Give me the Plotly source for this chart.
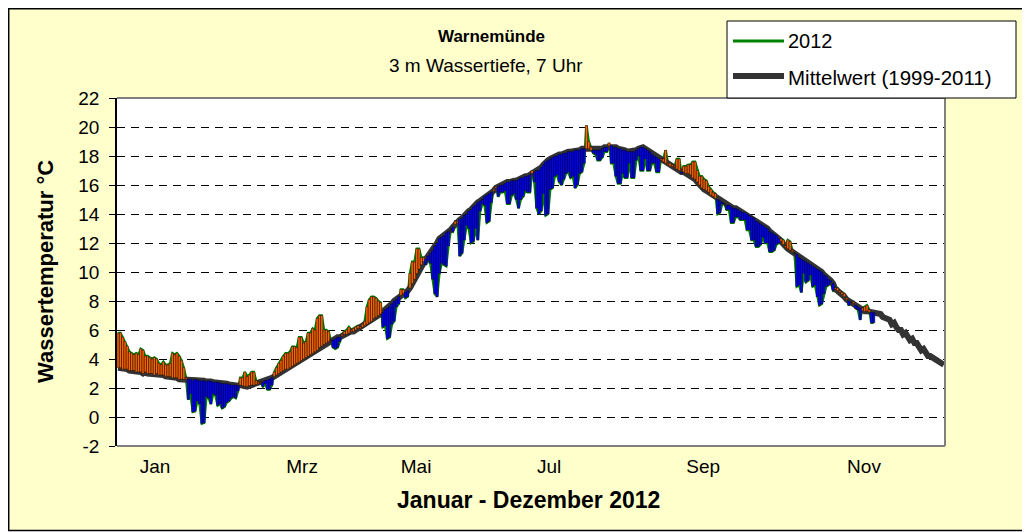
import plotly.graph_objects as go

# ---------------- data ----------------
# Mittelwert 1999-2011, one value per day of year (day index 0 = 1 Jan)
mean_vals = [
    3.4, 3.4, 3.3, 3.3, 3.3, 3.2, 3.2, 3.2, 3.1, 3.1,
    3.1, 3.0, 3.1, 3.0, 3.0, 3.0, 2.9, 3.0, 2.9, 2.9,
    2.9, 2.8, 2.8, 2.8, 2.7, 2.7, 2.7, 2.6, 2.6, 2.6,
    2.6, 2.6, 2.6, 2.5, 2.6, 2.55, 2.5, 2.5, 2.5, 2.45,
    2.5, 2.45, 2.4, 2.4, 2.4, 2.35, 2.3, 2.3, 2.3, 2.25,
    2.2, 2.2, 2.2, 2.15, 2.2, 2.15, 2.1, 2.1, 2.15, 2.2,
    2.2, 2.25, 2.3, 2.35, 2.4, 2.5, 2.55, 2.6, 2.7, 2.8,
    2.9, 3.0, 3.1, 3.2, 3.3, 3.3, 3.4, 3.5, 3.6, 3.7,
    3.8, 3.9, 4.0, 4.1, 4.2, 4.3, 4.4, 4.5, 4.6, 4.8,
    4.9, 5.0, 5.1, 5.2, 5.3, 5.3, 5.4, 5.5, 5.5, 5.6,
    5.7, 5.7, 5.8, 5.9, 5.9, 6.0, 6.1, 6.1, 6.2, 6.3,
    6.4, 6.5, 6.6, 6.8, 6.9, 7.0, 7.1, 7.2, 7.4, 7.5,
    7.6, 7.8, 8.0, 8.1, 8.3, 8.4, 8.5, 8.6, 8.7, 8.9,
    9.2, 9.5, 9.9, 10.2, 10.5, 10.7, 10.9, 11.1, 11.3, 11.5,
    11.8, 12.0, 12.3, 12.4, 12.5, 12.7, 12.8, 12.9, 13.1, 13.3,
    13.4, 13.6, 13.7, 13.9, 14.0, 14.2, 14.3, 14.5, 14.6, 14.8,
    14.9, 15.0, 15.2, 15.3, 15.4, 15.5, 15.6, 15.8, 15.9, 16.0,
    16.0, 16.1, 16.2, 16.2, 16.3, 16.3, 16.3, 16.4, 16.5, 16.5,
    16.6, 16.6, 16.7, 16.8, 16.9, 17.0, 17.0, 17.2, 17.4, 17.6,
    17.7, 17.8, 17.9, 18.0, 18.0, 18.1, 18.1, 18.2, 18.2, 18.3,
    18.3, 18.3, 18.4, 18.4, 18.4, 18.5, 18.5, 18.5, 18.5, 18.4,
    18.4, 18.4, 18.4, 18.4, 18.5, 18.6, 18.6, 18.7, 18.7, 18.6,
    18.6, 18.5, 18.5, 18.4, 18.4, 18.3, 18.3, 18.3, 18.3, 18.4,
    18.5, 18.6, 18.6, 18.5, 18.4, 18.3, 18.1, 18.0, 17.9, 17.8,
    17.7, 17.6, 17.5, 17.4, 17.3, 17.3, 17.2, 17.1, 17.0, 16.9,
    16.9, 16.8, 16.8, 16.7, 16.5, 16.4, 16.2, 16.0, 15.8, 15.7,
    15.6, 15.5, 15.3, 15.2, 15.1, 15.0, 14.9, 14.8, 14.7, 14.6,
    14.6, 14.5, 14.4, 14.4, 14.3, 14.2, 14.1, 14.1, 14.0, 13.9,
    13.8, 13.7, 13.5, 13.4, 13.3, 13.2, 13.1, 13.0, 12.8, 12.7,
    12.6, 12.5, 12.3, 12.1, 11.9, 11.7, 11.6, 11.5, 11.4, 11.3,
    11.2, 11.0, 10.9, 10.8, 10.7, 10.6, 10.5, 10.4, 10.3, 10.2,
    10.1, 10.0, 9.8, 9.7, 9.5, 9.4, 9.2, 8.8, 8.7, 8.6,
    8.45, 8.3, 8.1, 8.0, 7.9, 7.85, 7.7, 7.6, 7.5, 7.35,
    7.3, 7.3, 7.25, 7.2, 7.2, 7.15, 7.1, 7.1, 6.9, 6.8,
    6.7, 6.7, 6.4, 6.5, 6.2, 6.0, 6.0, 5.7, 5.8, 5.5,
    5.3, 5.4, 5.1, 5.1, 4.8, 4.6, 4.7, 4.4, 4.2, 4.2,
    4.1, 4.1, 3.9, 3.9, 3.7, 3.6,
]

# Wassertemperatur 2012, 3 m Tiefe, 7 Uhr (day index 0 = 1 Jan)
vals_2012 = [
    5.8, 5.8, 5.5, 5.2, 4.9, 4.5, 4.4, 4.3, 4.4, 4.3,
    4.7, 4.6, 4.2, 4.2, 4.1, 4.0, 4.1, 4.0, 3.7, 3.6,
    3.8, 3.6, 3.6, 3.7, 4.4, 4.3, 4.4, 4.2, 3.9, 3.4,
    2.7, 1.2, 1.6, 0.35, 0.4, 1.1, 0.9, -0.45, -0.4, 1.4,
    1.3, 0.9, 1.6, 1.5, 0.8, 0.9, 0.6, 0.7, 1.0, 1.1,
    1.3, 1.4, 1.3, 1.8, 2.7, 2.7, 3.1, 2.8, 2.9, 3.1,
    3.1, 2.5, 2.4, 2.4, 2.1, 2.3, 1.9, 1.9, 2.2, 3.1,
    3.4, 3.7, 3.9, 4.2, 4.4, 4.4, 4.5, 4.85, 4.85, 4.8,
    5.5, 5.5, 5.1, 5.2, 5.8, 5.8, 6.1, 6.0, 6.8, 7.0,
    7.0, 6.0, 6.0, 5.9, 5.3, 4.8, 4.7, 4.8, 5.2, 5.7,
    5.9, 6.0, 6.2, 6.0, 6.1, 6.2, 6.3, 6.2, 6.4, 6.6,
    7.6, 8.1, 8.3, 8.3, 8.2, 8.0, 7.9, 6.2, 6.3, 5.4,
    5.5, 6.4, 6.6, 7.6, 7.8, 8.8, 8.8, 8.2, 8.3, 9.9,
    10.7, 10.7, 11.6, 11.6, 11.0, 11.0, 10.5, 10.8, 10.6, 9.5,
    8.5, 8.3, 9.9, 10.6, 10.5, 10.4, 11.8, 12.9, 12.8, 13.5,
    13.5, 11.1, 11.3, 12.2, 13.2, 13.0, 12.0, 12.1, 13.0, 12.2,
    14.2, 14.7, 14.6, 13.4, 13.5, 14.8, 15.7, 15.9, 15.2, 15.5,
    15.5, 15.6, 14.7, 14.7, 15.3, 15.4, 15.0, 14.4, 15.0, 15.2,
    15.6, 15.5, 15.5, 17.0, 16.2, 14.4, 14.0, 14.2, 15.4, 13.9,
    14.0, 15.7, 15.8, 16.6, 16.7, 16.2, 16.0, 16.4, 16.8, 16.9,
    16.5, 16.6, 15.8, 16.0, 16.8, 16.9, 17.5, 20.1, 19.0, 18.6,
    18.2, 18.1, 17.7, 17.7, 17.9, 18.3, 18.3, 18.9, 17.5, 17.5,
    16.6, 16.1, 16.1, 16.8, 16.5, 16.5, 17.5, 16.5, 16.5, 17.7,
    18.0, 17.0, 17.0, 17.8, 17.0, 17.0, 17.5, 17.5, 16.9, 16.9,
    17.8, 17.8, 18.4, 17.5, 17.5, 17.4, 17.3, 17.8, 17.8, 16.8,
    17.3, 17.3, 17.4, 17.4, 17.6, 17.6, 17.0, 16.6, 16.6, 16.4,
    16.3, 15.9, 15.7, 15.5, 15.4, 14.0, 14.1, 14.7, 14.7, 14.3,
    14.3, 13.4, 13.4, 13.8, 13.8, 13.6, 13.6, 13.6, 12.9, 12.9,
    12.2, 12.2, 11.75, 11.75, 11.9, 12.4, 12.0, 12.0, 11.4, 11.4,
    11.5, 11.9, 12.0, 12.3, 12.2, 11.8, 12.2, 12.1, 11.5, 11.3,
    9.0, 9.1, 8.6, 9.9, 9.3, 9.4, 9.8, 9.0, 9.1, 8.3,
    7.7, 7.8, 8.5, 9.0, 9.1, 9.3, 8.75, 8.9, 8.9, 8.7,
    8.6, 8.5, 8.2, 7.7, 7.9, 7.95, 7.5, 7.4, 6.7, 7.5,
    7.6, 7.7, 7.4, 6.5, 6.5,
]

days_mean = list(range(len(mean_vals)))
days_2012 = list(range(len(vals_2012)))

month_labels = ["Jan", "Mrz", "Mai", "Jul", "Sep", "Nov"]
month_tick_days = [16.3, 81.3, 131.7, 190.5, 258.6, 329.7]

y_ticks = list(range(-2, 23, 2))

# ---------------- style ----------------
FONT = "Arial, 'Liberation Sans', sans-serif"
C_ORANGE = "#FF6600"
C_BLUE = "#0000FF"
C_GREEN = "#008000"
C_MEAN = "#333333"
C_BG = "#FFFFCC"

OFF = 8                      # page body margin of the html page
W, H = 1030 - OFF, 532 - OFF
PL, PR, PT, PB = 117, 945, 98, 446  # plot area in page pixels


def pxx(x):
    return (x - PL) / (PR - PL)


def pxy(y):
    return (PB - y) / (PB - PT)


# up / down bars between 2012 and mean, built from the data
ox, oy, bx, by = [], [], [], []
for d, v in zip(days_2012, vals_2012):
    m = mean_vals[d]
    xs = [d - 0.5, d - 0.5, d + 0.5, d + 0.5, d - 0.5, None]
    ys = [m, v, v, m, m, None]
    if v >= m:
        ox += xs
        oy += ys
    else:
        bx += xs
        by += ys

fig = go.Figure()
fig.add_trace(go.Scatter(x=days_2012, y=vals_2012, mode="lines",
                         line=dict(color=C_GREEN, width=2.5),
                         name="2012", showlegend=False, hoverinfo="skip"))
fig.add_trace(go.Scatter(x=days_mean, y=mean_vals, mode="lines",
                         line=dict(color=C_MEAN, width=6),
                         name="Mittelwert (1999-2011)", showlegend=False,
                         hoverinfo="skip"))
fig.add_trace(go.Scatter(x=ox, y=oy, mode="lines", fill="toself",
                         fillcolor=C_ORANGE, line=dict(color="black", width=0.4),
                         showlegend=False, hoverinfo="skip"))
fig.add_trace(go.Scatter(x=bx, y=by, mode="lines", fill="toself",
                         fillcolor=C_BLUE, line=dict(color="black", width=0.4),
                         showlegend=False, hoverinfo="skip"))

shapes = [
    # outer yellow frame
    dict(type="rect", xref="paper", yref="paper", layer="below",
         x0=pxx(8.7), x1=pxx(1040), y0=pxy(530.5), y1=pxy(8.7),
         fillcolor=C_BG, line=dict(color="black", width=1.5)),
    # white plot area
    dict(type="rect", xref="paper", yref="paper", layer="below",
         x0=0, x1=1, y0=0, y1=1, fillcolor="white", line=dict(width=0)),
    # plot border (top, right, bottom)
    dict(type="line", xref="paper", yref="paper", x0=0, x1=1, y0=1, y1=1,
         line=dict(color="#808080", width=2)),
    dict(type="line", xref="paper", yref="paper", x0=1, x1=1, y0=0, y1=1,
         line=dict(color="#808080", width=2)),
    dict(type="line", xref="paper", yref="paper", x0=0, x1=1, y0=0, y1=0,
         line=dict(color="#808080", width=2)),
    # legend box
    dict(type="rect", xref="paper", yref="paper",
         x0=pxx(727), x1=pxx(1016), y0=pxy(98), y1=pxy(21),
         fillcolor="white", line=dict(color="black", width=1)),
    dict(type="line", xref="paper", yref="paper",
         x0=pxx(733), x1=pxx(784), y0=pxy(41), y1=pxy(41),
         line=dict(color=C_GREEN, width=3)),
    dict(type="line", xref="paper", yref="paper",
         x0=pxx(733), x1=pxx(784), y0=pxy(76), y1=pxy(76),
         line=dict(color=C_MEAN, width=6)),
]

annotations = [
    dict(text="<b>Warnemünde</b>", x=pxx(491), y=pxy(37), xref="paper", yref="paper",
         showarrow=False, xanchor="center", yanchor="middle",
         font=dict(family=FONT, size=17, color="black")),
    dict(text="3 m Wassertiefe, 7 Uhr", x=pxx(486), y=pxy(66), xref="paper", yref="paper",
         showarrow=False, xanchor="center", yanchor="middle",
         font=dict(family=FONT, size=19, color="black")),
    dict(text="<b>Januar - Dezember 2012</b>", x=pxx(528), y=pxy(500), xref="paper",
         yref="paper", showarrow=False, xanchor="center", yanchor="middle",
         font=dict(family=FONT, size=23, color="black")),
    dict(text="<b>Wassertemperatur °C</b>", x=pxx(45), y=pxy(272), xref="paper",
         yref="paper", showarrow=False, xanchor="center", yanchor="middle",
         textangle=-90, font=dict(family=FONT, size=22, color="black")),
    dict(text="2012", x=pxx(786), y=pxy(41), xref="paper", yref="paper",
         showarrow=False, xanchor="left", yanchor="middle",
         font=dict(family=FONT, size=20, color="black")),
    dict(text="Mittelwert (1999-2011)", x=pxx(786), y=pxy(77), xref="paper",
         yref="paper", showarrow=False, xanchor="left", yanchor="middle",
         font=dict(family=FONT, size=20.5, color="black")),
]

fig.update_layout(
    width=W, height=H,
    margin=dict(l=PL - OFF, r=1030 - PR, t=PT - OFF, b=532 - PB, pad=0),
    paper_bgcolor="white",
    plot_bgcolor="white",
    showlegend=False,
    shapes=shapes,
    annotations=annotations,
    font=dict(family=FONT, size=16, color="black"),
    xaxis=dict(
        range=[-0.5, 365.5], tickmode="array", tickvals=month_tick_days,
        ticktext=month_labels, showgrid=False, zeroline=False, showline=False,
        ticks="", ticklabelstandoff=7,
        tickfont=dict(family=FONT, size=19, color="black"),
    ),
    yaxis=dict(
        range=[-2, 22], tickmode="array", tickvals=y_ticks,
        ticktext=[str(t) for t in y_ticks],
        showgrid=True, gridcolor="black", gridwidth=1, griddash="8px,6px",
        zeroline=False, showline=True, linecolor="black", linewidth=1.5,
        ticks="outside", ticklen=6, tickcolor="black", tickwidth=1,
        ticklabelstandoff=6,
        tickfont=dict(family=FONT, size=19, color="black"),
    ),
)

fig.write_html("out.html")
